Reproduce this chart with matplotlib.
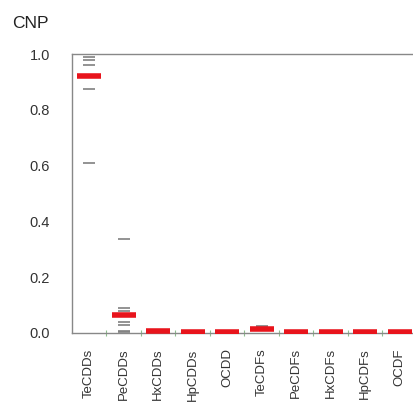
import matplotlib
matplotlib.use("Agg")
import matplotlib.pyplot as plt
import numpy as np

plt.rcParams['font.family'] = ['Liberation Sans', 'DejaVu Sans']

# congener groups
categories = ["TeCDDs", "PeCDDs", "HxCDDs", "HpCDDs", "OCDD",
              "TeCDFs", "PeCDFs", "HxCDFs", "HpCDFs", "OCDF"]

# individual sample values (grey dashes)
samples = [
    [0.99, 0.98, 0.96, 0.875, 0.61],
    [0.337, 0.09, 0.08, 0.04, 0.03, 0.008, 0.004],
    [0.004, 0.002, 0.001],
    [0.002, 0.001],
    [0.001],
    [0.025, 0.02],
    [0.006, 0.003],
    [0.002],
    [0.002],
    [0.001],
]

# representative value per group (red bars)
centers = [0.92, 0.065, 0.006, 0.002, 0.002, 0.014, 0.005, 0.002, 0.002, 0.002]

fig = plt.figure(figsize=(4.14, 4.05), dpi=100)
ax = fig.add_axes([72 / 414, (405 - 333) / 405, (422 - 72) / 414, (333 - 54) / 405])

x = np.arange(len(categories))
for xi, vals in zip(x, samples):
    ax.plot(np.full(len(vals), xi), vals, linestyle='none', marker='_',
            markersize=8.5, markeredgewidth=1.2, color='#808080', zorder=2)
ax.plot(x, centers, linestyle='none', marker='_', markersize=17,
        markeredgewidth=4, color='#e8141c', zorder=3)

ax.set_xlim(-0.5, 9.65)
ax.set_ylim(0, 1.0)
ax.set_yticks([0.0, 0.2, 0.4, 0.6, 0.8, 1.0])
ax.set_yticklabels(["0.0", "0.2", "0.4", "0.6", "0.8", "1.0"])
ax.tick_params(axis='y', length=0, pad=16, labelsize=10.5, labelcolor='#333333')
ax.set_xticks(x)
ax.set_xticklabels(categories, rotation=90, va='top', ha='center')
ax.tick_params(axis='x', length=0, pad=11, labelsize=9.5, labelcolor='#333333')
ax.set_xticks(x[:-1] + 0.5, minor=True)
ax.tick_params(axis='x', which='minor', direction='inout', length=4,
               width=0.8, color='#8fbf8f')

for side in ['left', 'top', 'bottom', 'right']:
    ax.spines[side].set_color('#888888')
    ax.spines[side].set_linewidth(1.0)

fig.text(12 / 414, 1 - 28 / 405, "CNP", fontsize=12.5, color='#222222')

fig.savefig("out.png", dpi=100)
